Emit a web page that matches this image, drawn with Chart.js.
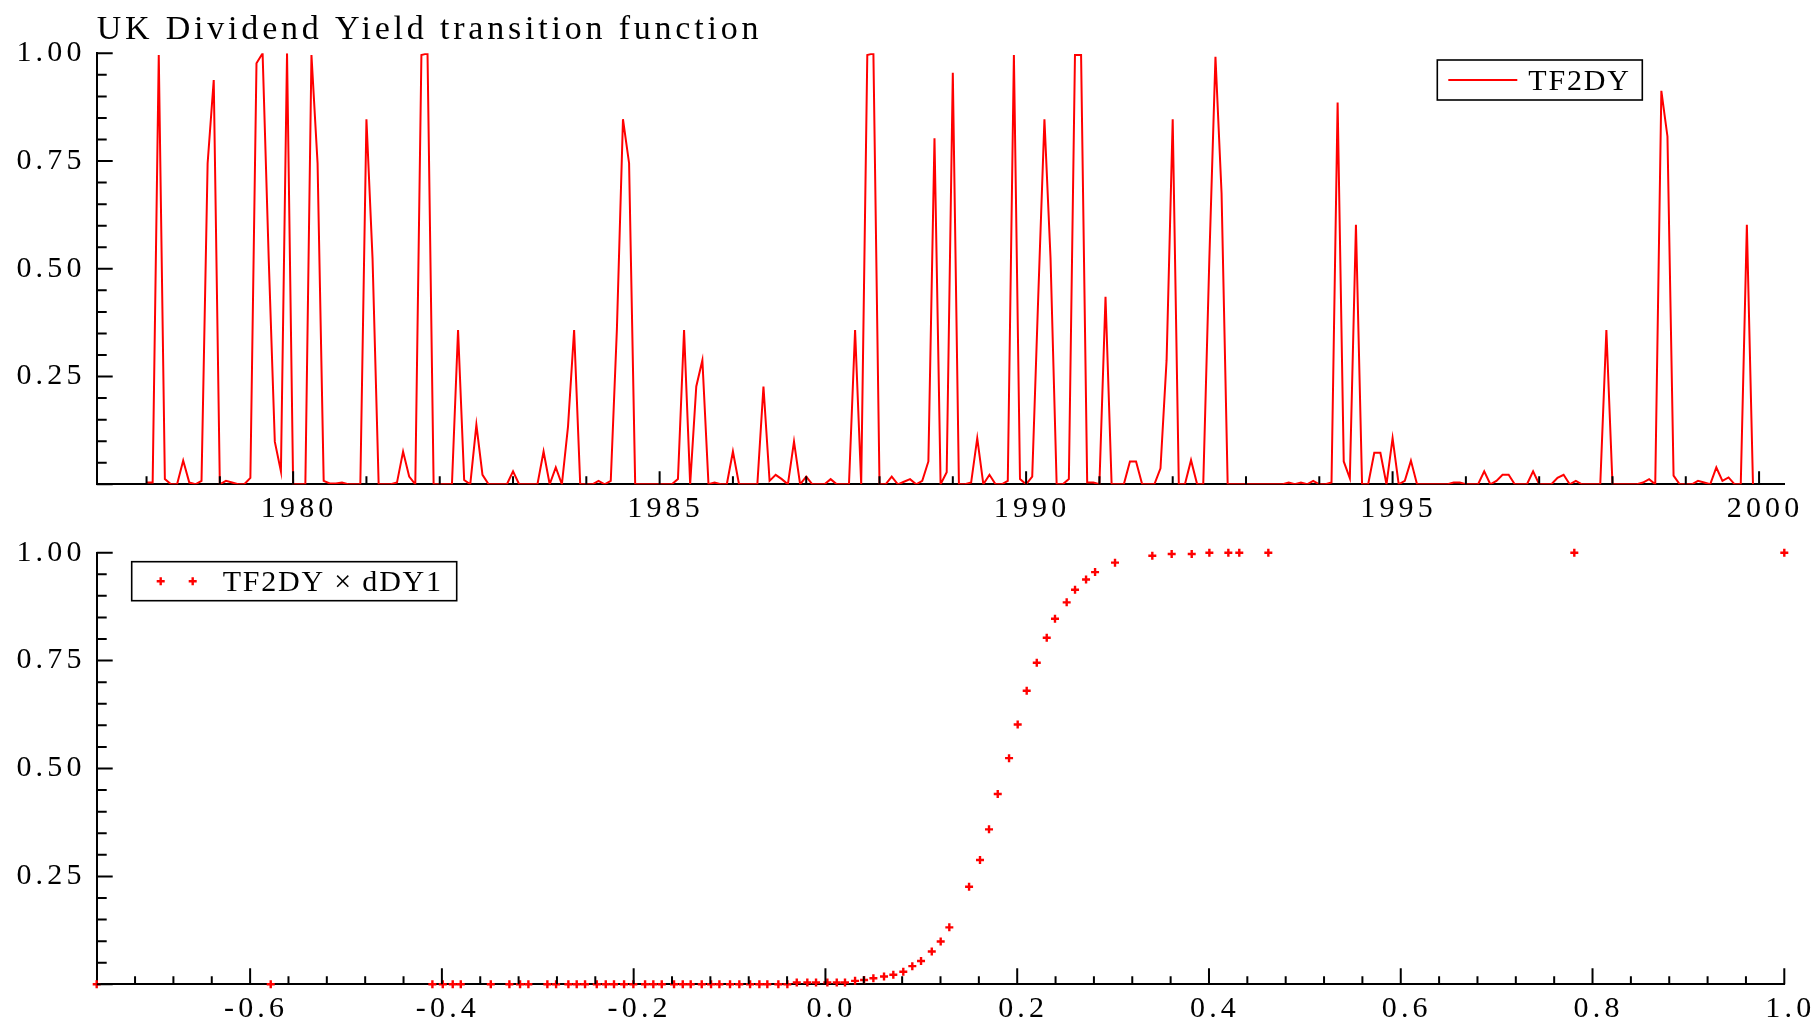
<!DOCTYPE html>
<html>
<head>
<meta charset="utf-8">
<title>UK Dividend Yield transition function</title>
<script src="https://cdn.jsdelivr.net/npm/chart.js@4.4.1/dist/chart.umd.min.js"></script>
<style>
  html, body { margin: 0; padding: 0; background: #fff; }
  #wrap { position: relative; width: 1814px; height: 1026px; overflow: hidden; }
  #wrap canvas { position: absolute; left: 0; }
</style>
</head>
<body>
<div id="wrap">
  <canvas id="tfTime" width="1814" height="540" style="top:0"></canvas>
  <canvas id="tfScatter" width="1814" height="526" style="top:500px"></canvas>
</div>
<script>
// ---------------- data ----------------
// TF2DY, monthly, 1978(1) .. 1999(12)
const firstYear = 1978;
const tf2dy = [
  0.004, 0.004, 0.996, 0.012, 0, 0, 0.055, 0.004, 0, 0.008, 0.745, 0.938,     // 1978
  0, 0.008, 0.004, 0, 0, 0.015, 0.977, 1.0, 0.524, 0.099, 0.03, 1.0,          // 1979
  0, 0, 0, 0.996, 0.745, 0.008, 0.002, 0.002, 0.004, 0, 0, 0,                 // 1980
  0.847, 0.524, 0, 0, 0, 0.004, 0.076, 0.018, 0, 0.996, 1.0, 0,               // 1981
  0, 0, 0, 0.358, 0.01, 0, 0.138, 0.022, 0, 0, 0, 0,                          // 1982
  0.03, 0, 0, 0, 0, 0.076, 0, 0.039, 0, 0.134, 0.358, 0,                      // 1983
  0, 0, 0.008, 0, 0.008, 0.358, 0.847, 0.745, 0, 0, 0, 0,                     // 1984
  0, 0, 0, 0.012, 0.358, 0, 0.227, 0.288, 0, 0.004, 0, 0,                     // 1985
  0.076, 0, 0, 0, 0, 0.227, 0.008, 0.022, 0.012, 0, 0.099, 0,                 // 1986
  0.018, 0, 0, 0, 0.012, 0, 0, 0, 0.358, 0, 0.996, 1.0,                       // 1987
  0, 0, 0.018, 0, 0.006, 0.012, 0, 0.008, 0.053, 0.803, 0, 0.028,             // 1988
  0.955, 0, 0, 0.004, 0.107, 0, 0.022, 0, 0, 0.008, 0.996, 0.012,             // 1989
  0, 0.018, 0.441, 0.847, 0.524, 0, 0, 0.012, 0.996, 0.996, 0.004, 0.004,     // 1990
  0, 0.435, 0, 0, 0, 0.053, 0.053, 0, 0, 0, 0.037, 0.288,                     // 1991
  0.847, 0, 0, 0.056, 0, 0, 0.524, 0.992, 0.675, 0, 0, 0,                     // 1992
  0, 0, 0, 0, 0, 0, 0, 0.004, 0, 0.004, 0, 0.008,                             // 1993
  0, 0, 0.004, 0.886, 0.053, 0.014, 0.602, 0, 0, 0.073, 0.073, 0,             // 1994
  0.107, 0, 0.008, 0.055, 0, 0, 0, 0, 0, 0, 0.004, 0.004,                     // 1995
  0, 0, 0, 0.03, 0, 0.008, 0.022, 0.022, 0, 0, 0, 0.03,                       // 1996
  0, 0, 0, 0.015, 0.022, 0, 0.008, 0, 0, 0, 0, 0.358,                         // 1997
  0, 0, 0, 0, 0, 0.004, 0.012, 0, 0.913, 0.807, 0.02, 0,                      // 1998
  0, 0, 0.008, 0.004, 0, 0.039, 0.008, 0.016, 0, 0, 0.602, 0                  // 1999
];

// TF2DY against dDY1 (distinct points)
const dDY1 = [
  -0.760, -0.5785, -0.4099, -0.3991, -0.3887, -0.3803, -0.3490, -0.3296, -0.3185, -0.3098,
  -0.2900, -0.2809, -0.2681, -0.2594, -0.2507, -0.2385, -0.2291, -0.2205, -0.2100, -0.2003,
  -0.1881, -0.1795, -0.1707, -0.1579, -0.1488, -0.1405, -0.1290, -0.1193, -0.1106, -0.0995,
  -0.0898, -0.0786, -0.0689, -0.0606, -0.0491, -0.0397, -0.0299, -0.0189, -0.0098, 0.0020,
  0.0118, 0.0204, 0.0309, 0.0403, 0.0500, 0.0611, 0.0708, 0.0812, 0.0906, 0.0997,
  0.1109, 0.1202, 0.1292, 0.1498, 0.1612, 0.1706, 0.1797, 0.1915, 0.2005, 0.2099,
  0.2204, 0.2308, 0.2394, 0.2516, 0.2603, 0.2718, 0.2812, 0.3020, 0.3409, 0.3611,
  0.3820, 0.4004, 0.4202, 0.4316, 0.4619, 0.7810, 1.0
];
const tfAtDDY1 = [
  0, 0, 0, 0, 0, 0, 0, 0, 0, 0,
  0, 0, 0, 0, 0, 0, 0, 0, 0, 0,
  0, 0, 0, 0, 0, 0, 0, 0, 0, 0,
  0, 0, 0, 0, 0, 0, 0.004, 0.004, 0.004, 0.004,
  0.004, 0.004, 0.008, 0.010, 0.014, 0.018, 0.022, 0.029, 0.042, 0.054,
  0.076, 0.099, 0.132, 0.226, 0.288, 0.359, 0.441, 0.524, 0.602, 0.680,
  0.745, 0.803, 0.847, 0.885, 0.914, 0.938, 0.955, 0.977, 0.993, 0.997,
  0.997, 1.0, 1.0, 1.0, 1.0, 1.0, 1.0
];

// axis ticks
const yearLabels = [1980, 1985, 1990, 1995, 2000];
const yearMinor = [1978, 1979, 1981, 1982, 1983, 1984, 1986, 1987, 1988, 1989,
                   1991, 1992, 1993, 1994, 1996, 1997, 1998, 1999];
const probLabels = [0.25, 0.5, 0.75, 1];
const probMajor = [0, 0.25, 0.5, 0.75, 1];
const probMinor = [0.05, 0.1, 0.15, 0.2, 0.3, 0.35, 0.4, 0.45, 0.55, 0.6, 0.65, 0.7,
                   0.8, 0.85, 0.9, 0.95];
const dyLabels = [-0.6, -0.4, -0.2, 0, 0.2, 0.4, 0.6, 0.8, 1.0];
const dyMinor = [-0.72, -0.68, -0.64, -0.56, -0.52, -0.48, -0.44, -0.36, -0.32, -0.28,
                 -0.24, -0.16, -0.12, -0.08, -0.04, 0.04, 0.08, 0.12, 0.16, 0.24, 0.28,
                 0.32, 0.36, 0.44, 0.48, 0.52, 0.56, 0.64, 0.68, 0.72, 0.76, 0.84, 0.88,
                 0.92, 0.96];

// ---------------- styling helpers ----------------
const serif = '"Liberation Serif", "Times New Roman", serif';
const RED = '#ff0000';
Chart.defaults.font.family = serif;
Chart.defaults.color = '#000';

const tickFont = { family: serif, size: 30 };

// spaced-out lettering for every label on the canvas
const letterSpacing = {
  id: 'letterSpacing',
  beforeDraw(chart) { chart.ctx.letterSpacing = '4.2px'; }
};

// tick marks pointing into the plot
const innerTicks = {
  id: 'innerTicks',
  afterDraw(chart, args, o) {
    const { ctx, chartArea: a } = chart;
    const xs = chart.scales.x, ys = chart.scales.y;
    ctx.save();
    ctx.strokeStyle = '#000';
    ctx.lineWidth = 2;
    ctx.beginPath();
    const tickX = (vals, len) => vals.forEach(v => {
      const px = xs.getPixelForValue(v);
      ctx.moveTo(px, a.bottom); ctx.lineTo(px, a.bottom - len);
    });
    const tickY = (vals, len) => vals.forEach(v => {
      const py = ys.getPixelForValue(v);
      ctx.moveTo(a.left, py); ctx.lineTo(a.left + len, py);
    });
    tickX(o.xMajor, o.xMajorLen);
    tickX(o.xMinor, 8);
    tickY(probMajor, 16);
    tickY(probMinor, 10);
    ctx.stroke();
    ctx.restore();
  }
};

// boxed legend at a fixed spot
const boxLegend = {
  id: 'boxLegend',
  afterDraw(chart, args, o) {
    const ctx = chart.ctx;
    const ds = chart.data.datasets[0];
    const cy = o.top + o.height / 2;
    ctx.save();
    ctx.lineWidth = 1.6;
    ctx.strokeStyle = '#000';
    ctx.strokeRect(o.left, o.top, o.width, o.height);
    ctx.strokeStyle = RED;
    ctx.lineWidth = 2;
    ctx.beginPath();
    if (o.marker === 'line') {
      ctx.moveTo(o.left + 11, cy); ctx.lineTo(o.left + 80, cy);
    } else {
      [29, 61].forEach(dx => {
        ctx.moveTo(o.left + dx - 4, cy); ctx.lineTo(o.left + dx + 4, cy);
        ctx.moveTo(o.left + dx, cy - 4); ctx.lineTo(o.left + dx, cy + 4);
      });
      ctx.lineWidth = 2.4;
    }
    ctx.stroke();
    ctx.letterSpacing = '1.8px';
    ctx.font = '30px ' + serif;
    ctx.fillStyle = '#000';
    ctx.textBaseline = 'alphabetic';
    ctx.fillText(ds.label, o.left + 91, o.top + 29.5);
    ctx.restore();
  }
};

const heading = {
  id: 'heading',
  afterDraw(chart, args, o) {
    const ctx = chart.ctx;
    ctx.save();
    ctx.font = '34px ' + serif;
    ctx.letterSpacing = '3.8px';
    ctx.fillStyle = '#000';
    ctx.textBaseline = 'alphabetic';
    ctx.fillText(o.text, chart.chartArea.left, o.baseline);
    ctx.restore();
  }
};

function xAxis(min, max, labels, fmt, height) {
  return {
    type: 'linear', min, max,
    grid: { display: false, drawTicks: false },
    border: { display: true, color: '#000', width: 2 },
    ticks: {
      font: tickFont, color: '#000', padding: 7, labelOffset: 6,
      autoSkip: false, maxRotation: 0, callback: fmt
    },
    afterBuildTicks: s => { s.ticks = labels.map(v => ({ value: v })); },
    afterFit: s => { s.height = height; }
  };
}

function yAxis() {
  return {
    type: 'linear', min: 0, max: 1,
    grid: { display: false, drawTicks: false },
    border: { display: true, color: '#000', width: 2 },
    ticks: { font: tickFont, color: '#000', padding: 11, callback: v => Number(v).toFixed(2) },
    afterBuildTicks: s => { s.ticks = probLabels.map(v => ({ value: v })); },
    afterFit: s => { s.width = 96.7; }
  };
}

// ---------------- TF2DY over time ----------------
new Chart(document.getElementById('tfTime'), {
  type: 'line',
  data: {
    datasets: [{
      label: 'TF2DY',
      data: tf2dy.map((v, i) => ({ x: firstYear + i / 12, y: v })),
      borderColor: RED,
      borderWidth: 2,
      pointRadius: 0,
      tension: 0,
      fill: false
    }]
  },
  options: {
    responsive: false,
    animation: false,
    events: [],
    layout: { padding: { left: 0, top: 53.3, right: 30, bottom: 0 } },
    scales: {
      x: xAxis(1977.32, 2000.34, yearLabels, v => String(v), 55.7),
      y: yAxis()
    },
    plugins: {
      legend: { display: false },
      tooltip: { enabled: false },
      innerTicks: { xMajor: yearLabels, xMinor: yearMinor, xMajorLen: 13 },
      boxLegend: { left: 1437.3, top: 60, width: 205, height: 40, marker: 'line' },
      heading: { text: 'UK Dividend Yield transition function', baseline: 39 }
    }
  },
  plugins: [letterSpacing, innerTicks, boxLegend, heading]
});

// ---------------- TF2DY against dDY1 ----------------
new Chart(document.getElementById('tfScatter'), {
  type: 'scatter',
  data: {
    datasets: [{
      label: 'TF2DY \u00d7 dDY1',
      data: dDY1.map((x, i) => ({ x, y: tfAtDDY1[i] })),
      pointStyle: 'cross',
      pointRadius: 4,
      pointBorderWidth: 2.4,
      pointBorderColor: RED,
      pointBackgroundColor: RED,
      clip: false
    }]
  },
  options: {
    responsive: false,
    animation: false,
    events: [],
    layout: { padding: { left: 0, top: 52.7, right: 29.7, bottom: 0 } },
    scales: {
      x: xAxis(-0.76, 1.0, dyLabels, v => Number(v).toFixed(1), 41.7),
      y: yAxis()
    },
    plugins: {
      legend: { display: false },
      tooltip: { enabled: false },
      innerTicks: { xMajor: dyLabels, xMinor: dyMinor, xMajorLen: 16 },
      boxLegend: { left: 131.7, top: 61.7, width: 325, height: 39, marker: 'cross' }
    }
  },
  plugins: [letterSpacing, innerTicks, boxLegend]
});
</script>
</body>
</html>
